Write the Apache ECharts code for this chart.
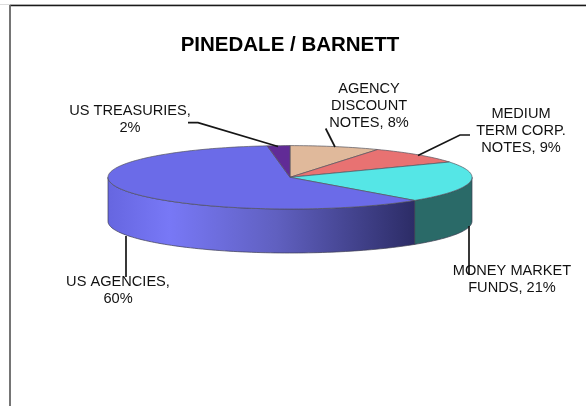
<!DOCTYPE html>
<html>
<head>
<meta charset="utf-8">
<style>html,body{margin:0;padding:0;background:#fff}#chart{width:586px;height:406px}</style>
<script src="https://cdn.jsdelivr.net/npm/echarts@6/dist/echarts.min.js"></script>
</head>
<body>
<div id="chart"></div>
<script>
// Portfolio shares, clockwise from twelve o'clock
const categories = ['AGENCY\nDISCOUNT\nNOTES,', 'MEDIUM\nTERM CORP.\nNOTES,', 'MONEY MARKET\nFUNDS,', 'US AGENCIES,', 'US TREASURIES,'];
const shares = [8, 9, 21, 60, 2];
const valueBreaks = [' ', ' ', ' ', '\n', '\n'];

const topColors = ['#e0b99b', '#e87272', '#55e6e6', '#6b6be8', '#612b96'];
const wallFills = [
  '#b09078', '#b05858', '#2a6a68',
  new echarts.graphic.LinearGradient(0, 0, 1, 0, [
    { offset: 0, color: '#6666e0' },
    { offset: 0.2, color: '#7878f6' },
    { offset: 0.55, color: '#6060c0' },
    { offset: 1, color: '#2c2c66' }
  ]),
  '#3f1c63'
];

// Tilted disc geometry
const disc = { cx: 290, cy: 177.3, rx: 182, ry: 31.7, depth: 44 };

// Where each label sits and how its leader runs
const labelCenters = [[369, 106], [521, 130.5], [512, 279.5], [118, 290], [130, 119]];
const leaderPaths = [
  [[325.7, 128.5], [335, 147]],
  [[470, 135], [460, 135], [418, 155.5]],
  [[469, 226], [469, 275]],
  [[126, 236], [126, 277]],
  [[188, 122.7], [198, 122.7], [278, 146.5]]
];

const total = shares.reduce((a, b) => a + b, 0);
const bounds = [0];
shares.forEach((v, i) => bounds.push(bounds[i] + (v / total) * 360));

function rimPoint(deg, dy) {
  const t = (deg * Math.PI) / 180;
  return [disc.cx + disc.rx * Math.sin(t), disc.cy - disc.ry * Math.cos(t) + (dy || 0)];
}
function arc(from, to, dy) {
  const steps = Math.max(2, Math.ceil(Math.abs(to - from) / 1.5));
  const pts = [];
  for (let k = 0; k <= steps; k++) pts.push(rimPoint(from + ((to - from) * k) / steps, dy));
  return pts;
}

const rows = shares.map((v, i) => [i, v]);

// Front wall: only the part of each slice facing the viewer (90deg to 270deg)
function renderWall(params, api) {
  const i = api.value(0);
  const from = Math.max(bounds[i], 90);
  const to = Math.min(bounds[i + 1], 270);
  if (to <= from) return null;
  const pts = arc(from, to, 0).concat(arc(to, from, disc.depth));
  return {
    type: 'polygon',
    shape: { points: pts },
    style: { fill: wallFills[i], stroke: '#3c3c50', lineWidth: 0.7 }
  };
}

function renderTop(params, api) {
  const i = api.value(0);
  const pts = [[disc.cx, disc.cy]].concat(arc(bounds[i], bounds[i + 1], 0));
  return {
    type: 'polygon',
    shape: { points: pts },
    style: { fill: topColors[i], stroke: '#55555f', lineWidth: 0.7 }
  };
}

function renderLeader(params, api) {
  const i = api.value(0);
  return {
    type: 'polyline',
    shape: { points: leaderPaths[i] },
    style: { fill: 'none', stroke: '#161616', lineWidth: 1.7 }
  };
}

function renderLabel(params, api) {
  const i = api.value(0);
  return {
    type: 'text',
    x: labelCenters[i][0],
    y: labelCenters[i][1],
    style: {
      text: categories[i] + valueBreaks[i] + api.value(1) + '%',
      font: '14.6px "Liberation Sans", Arial, sans-serif',
      lineHeight: 17,
      fill: '#111',
      align: 'center',
      verticalAlign: 'middle'
    }
  };
}

function layer(renderItem, z) {
  return { type: 'custom', coordinateSystem: 'none', renderItem, data: rows, z, silent: true, animation: false };
}

const chart = echarts.init(document.getElementById('chart'), null, { renderer: 'canvas' });
chart.setOption({
  animation: false,
  backgroundColor: '#fff',
  title: {
    text: 'PINEDALE / BARNETT',
    left: 290,
    top: 45,
    padding: 0,
    textAlign: 'center',
    textVerticalAlign: 'middle',
    textStyle: { fontFamily: '"Liberation Sans", Arial, sans-serif', fontWeight: 'bold', fontSize: 20.5, color: '#000' }
  },
  graphic: [
    { type: 'line', shape: { x1: 0, y1: 4.5, x2: 586, y2: 4.5 }, style: { stroke: '#dcdcdc', lineWidth: 1 } },
    { type: 'line', shape: { x1: 10, y1: 5.5, x2: 586, y2: 5.5 }, style: { stroke: '#1a1a1a', lineWidth: 1.3 } },
    { type: 'line', shape: { x1: 10, y1: 5, x2: 10, y2: 406 }, style: { stroke: '#666', lineWidth: 1.8 } }
  ],
  series: [layer(renderWall, 1), layer(renderTop, 2), layer(renderLeader, 3), layer(renderLabel, 4)]
});
</script>
</body>
</html>
